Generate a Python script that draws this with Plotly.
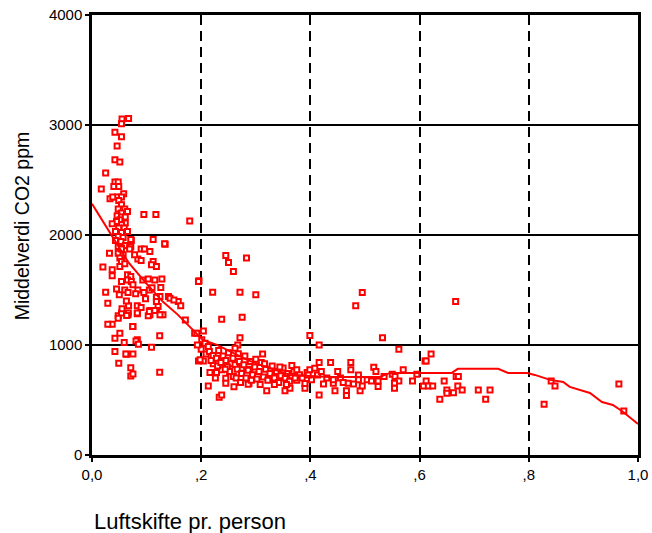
import plotly.graph_objects as go

# Measured air change per person and mean CO2 level per room
luftskifte = [
    0.055, 0.067, 0.054, 0.042, 0.054, 0.046, 0.042, 0.051, 0.025, 0.017,
    0.042, 0.048, 0.045, 0.040, 0.049, 0.058, 0.033, 0.046, 0.038, 0.054,
    0.049, 0.054, 0.048, 0.060, 0.054, 0.065, 0.046, 0.054, 0.061, 0.095,
    0.117, 0.179, 0.051, 0.045, 0.061, 0.054, 0.037, 0.049, 0.059, 0.043,
    0.054, 0.065, 0.048, 0.057, 0.043, 0.053, 0.072, 0.112, 0.134, 0.071,
    0.048, 0.061, 0.069, 0.054, 0.071, 0.048, 0.057, 0.051, 0.054, 0.051,
    0.060, 0.032, 0.054, 0.069, 0.090, 0.096, 0.106, 0.133, 0.112, 0.109,
    0.118, 0.084, 0.090, 0.078, 0.020, 0.037, 0.037, 0.065, 0.071, 0.065,
    0.072, 0.054, 0.093, 0.103, 0.115, 0.128, 0.025, 0.126, 0.140, 0.143,
    0.029, 0.118, 0.1245, 0.158, 0.1625, 0.196, 0.118, 0.118, 0.121, 0.084,
    0.075, 0.060, 0.045, 0.050, 0.066, 0.095, 0.105, 0.110, 0.080, 0.037,
    0.042, 0.042, 0.049, 0.071, 0.071, 0.075, 0.063, 0.075, 0.059, 0.083,
    0.109, 0.124, 0.124, 0.075, 0.051, 0.048, 0.054, 0.048, 0.066, 0.083,
    0.083, 0.067, 0.106, 0.106, 0.118, 0.130, 0.150, 0.171, 0.188, 0.029,
    0.062, 0.0806, 0.085, 0.0665, 0.083, 0.0635, 0.103, 0.105, 0.115, 0.1245,
    0.0745, 0.063, 0.055, 0.090, 0.098,
    0.245, 0.250, 0.283, 0.259, 0.195, 0.221, 0.271, 0.300, 0.2375, 0.275,
    0.204, 0.192, 0.271, 0.399, 0.267, 0.262, 0.201, 0.207, 0.213, 0.200,
    0.209, 0.195, 0.204, 0.216, 0.228, 0.2375, 0.213, 0.233, 0.2375, 0.245,
    0.245, 0.259, 0.3125, 0.2875, 0.320, 0.3535, 0.3626, 0.366, 0.390, 0.193,
    0.198, 0.274, 0.289, 0.286,
    0.215, 0.222, 0.228, 0.232, 0.240, 0.245, 0.250, 0.255, 0.222, 0.230,
    0.236, 0.248, 0.252, 0.258, 0.262, 0.266, 0.270, 0.274, 0.278, 0.282,
    0.286, 0.290, 0.294, 0.298, 0.302, 0.306, 0.310, 0.314, 0.318, 0.322,
    0.326, 0.330, 0.334, 0.338, 0.342, 0.346, 0.350, 0.354, 0.358, 0.362,
    0.366, 0.370, 0.375, 0.380, 0.385, 0.390, 0.394, 0.264, 0.268, 0.244,
    0.226, 0.218, 0.280, 0.292, 0.300, 0.308, 0.316, 0.260, 0.272, 0.334,
    0.344, 0.356, 0.372,
    0.495, 0.483, 0.416, 0.532, 0.562, 0.416, 0.437, 0.474, 0.516, 0.520,
    0.570, 0.450, 0.474, 0.399, 0.408, 0.413, 0.402, 0.396, 0.424, 0.442,
    0.442, 0.469, 0.488, 0.488, 0.479, 0.445, 0.466, 0.466, 0.416, 0.491,
    0.495, 0.504, 0.512, 0.524, 0.524, 0.535, 0.550, 0.555, 0.562, 0.554,
    0.554, 0.587, 0.595, 0.607, 0.610, 0.375, 0.430, 0.455, 0.460, 0.420,
    0.666, 0.621, 0.612, 0.612, 0.616, 0.624, 0.645, 0.667, 0.671, 0.670,
    0.650, 0.650, 0.662, 0.678, 0.637, 0.7075, 0.721, 0.729, 0.828, 0.841,
    0.848, 0.965, 0.974,
]
co2 = [
    3055, 3058, 3012, 2933, 2894, 2809, 2685, 2663, 2563, 2418,
    2481, 2481, 2442, 2442, 2442, 2375, 2330, 2345, 2345, 2345,
    2314, 2275, 2236, 2236, 2199, 2214, 2175, 2163, 2163, 2187,
    2187, 2127, 2139, 2123, 2108, 2093, 2102, 2063, 2063, 2032,
    2023, 2032, 1987, 1978, 1950, 1941, 1950, 1959, 1917, 1959,
    1895, 1905, 1895, 1881, 1890, 1835, 1820, 1790, 1759, 1714,
    1738, 1835, 1872, 1872, 1872, 1872, 1850, 1920, 1759, 1729,
    1714, 1781, 1768, 1820, 1708, 1683, 1629, 1638, 1622, 1592,
    1577, 1577, 1592, 1599, 1592, 1599, 1480, 1522, 1441, 1426,
    1380, 1417, 1441, 1395, 1356, 1583, 1435, 1395, 1350, 1500,
    1547, 1500, 1510, 1456, 1477, 1477, 1500, 1520, 1465, 1189,
    1062, 940, 834, 794, 719, 737, 916, 919, 1022, 1047,
    980, 1083, 753, 1168, 1107, 1265, 1290, 1244, 1274, 1283,
    1356, 1356, 1313, 1274, 1313, 1274, 1410, 1228, 1107, 1189,
    919, 1037, 1007, 1290, 1290, 1268, 1265, 1304, 1313, 1274,
    1168, 1400, 1330, 1340, 1420,
    1814, 1750, 1790, 1668, 1577, 1480, 1480, 1456, 1235, 1253,
    1128, 1107, 1067, 1086, 1001, 971, 1047, 1016, 986, 962,
    919, 855, 855, 749, 749, 774, 628, 525, 546, 698,
    652, 713, 919, 652, 585, 585, 607, 813, 607, 1001,
    865, 789, 780, 643,
    940, 905, 880, 950, 900, 860, 930, 830, 830, 810,
    840, 800, 760, 880, 820, 780, 850, 740, 820, 700,
    770, 850, 730, 800, 690, 760, 840, 710, 780, 680,
    740, 810, 700, 760, 660, 720, 790, 700, 740, 670,
    720, 760, 680, 730, 700, 650, 750, 700, 920, 780,
    700, 860, 900, 680, 870, 640, 830, 620, 660, 640,
    800, 640, 700,
    1477, 1356, 1001, 1067, 962, 840, 840, 840, 798, 758,
    774, 758, 774, 774, 789, 728, 683, 728, 646, 652,
    683, 652, 728, 683, 646, 585, 585, 540, 546, 585,
    628, 683, 673, 673, 622, 713, 734, 713, 673, 652,
    607, 673, 734, 628, 855, 774, 700, 700, 660, 760,
    1395, 919, 855, 673, 628, 628, 673, 713, 713, 628,
    592, 561, 567, 592, 507, 592, 507, 592, 461, 673,
    628, 646, 400,
]

# Smoothed fit through the scatter
fit_x = [0.0, 0.0366, 0.066, 0.097, 0.130, 0.1575, 0.185, 0.203, 0.229, 0.284,
         0.308, 0.363, 0.436, 0.527, 0.546, 0.601, 0.659, 0.670, 0.744, 0.762,
         0.797, 0.811, 0.839, 0.863, 0.875, 0.912, 0.934, 0.954, 0.973, 1.0]
fit_y = [2284, 1984, 1756, 1574, 1392, 1274, 1138, 1046, 1001, 865,
         819, 728, 710, 710, 746, 746, 746, 783, 783, 746,
         746, 728, 683, 664, 619, 564, 482, 455, 391, 282]

x_ticks = [0.0, 0.2, 0.4, 0.6, 0.8, 1.0]
x_ticktext = ["0,0", ",2", ",4", ",6", ",8", "1,0"]
y_ticks = [0, 1000, 2000, 3000, 4000]
y_ticktext = ["0", "1000", "2000", "3000", "4000"]

FONT = "Liberation Sans, Arial, sans-serif"

fig = go.Figure()
fig.add_trace(go.Scatter(
    x=luftskifte, y=co2, mode="markers", showlegend=False,
    marker=dict(symbol="square", size=5, color="white",
                line=dict(color="#ff0000", width=2)),
))
fig.add_trace(go.Scatter(
    x=fit_x, y=fit_y, mode="lines", showlegend=False,
    line=dict(color="#ff0000", width=2),
))

fig.update_layout(
    width=652, height=533,
    margin=dict(l=92, r=14, t=15, b=78),
    paper_bgcolor="white", plot_bgcolor="white",
    font=dict(family=FONT, color="black"),
    xaxis=dict(
        range=[0, 1], tickvals=x_ticks, ticktext=x_ticktext,
        showgrid=True, gridcolor="black", gridwidth=2, griddash="10px,6px",
        showline=True, linecolor="black", linewidth=3, mirror=True,
        ticks="outside", ticklen=4, tickwidth=2, tickcolor="black",
        tickfont=dict(size=15, family=FONT, color="black"),
        zeroline=False, automargin=False,
    ),
    yaxis=dict(
        range=[0, 4000], tickvals=y_ticks, ticktext=y_ticktext,
        showgrid=True, gridcolor="black", gridwidth=2,
        showline=True, linecolor="black", linewidth=2.5, mirror=True,
        ticks="outside", ticklen=4, tickwidth=2, tickcolor="black",
        tickfont=dict(size=15, family=FONT, color="black"),
        zeroline=False, automargin=False,
    ),
    annotations=[
        dict(text="Middelverdi CO2 ppm", xref="paper", yref="paper",
             x=-0.128, y=0.52, textangle=-90, showarrow=False,
             xanchor="center", yanchor="middle",
             font=dict(size=19.5, family=FONT, color="black")),
        dict(text="Luftskifte pr. person", xref="paper", yref="paper",
             x=0.0, y=-0.152, showarrow=False,
             xanchor="left", yanchor="middle",
             font=dict(size=22, family=FONT, color="black")),
    ],
)

fig.write_html("out.html")
